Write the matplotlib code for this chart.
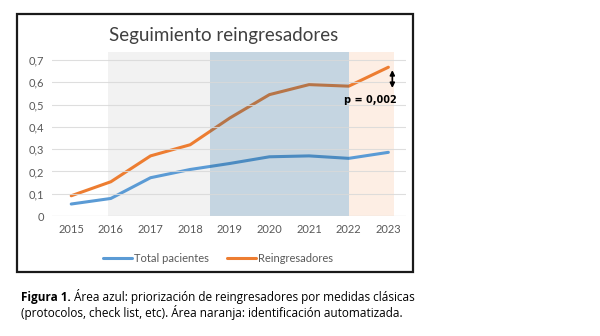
import matplotlib.pyplot as plt
from matplotlib.patches import Rectangle

plt.rcParams["font.family"] = ["Lato", "DejaVu Sans"]

# Data
years = ["2015", "2016", "2017", "2018", "2019", "2020", "2021", "2022", "2023"]
total_pacientes = [0.054, 0.079, 0.172, 0.209, 0.236, 0.266, 0.270, 0.259, 0.286]
reingresadores = [0.091, 0.154, 0.270, 0.320, 0.440, 0.545, 0.590, 0.583, 0.668]
y_ticks = [0, 0.1, 0.2, 0.3, 0.4, 0.5, 0.6, 0.7]
y_labels = ["0", "0,1", "0,2", "0,3", "0,4", "0,5", "0,6", "0,7"]

# Shaded periods (category index units)
gray_span = (0.92, 3.5)
blue_span = (3.5, 7.0)
orange_span = (7.0, 8.13)

fig = plt.figure(figsize=(6, 3.36), dpi=100)
ax = fig.add_axes([0.087, 0.357, 0.59, 0.488])

x = list(range(len(years)))

ax.axvspan(*gray_span, color="#f2f2f2", zorder=0, lw=0)
ax.axvspan(*orange_span, color="#fdeee4", zorder=0, lw=0)
ax.plot(x, total_pacientes, color="#5b9bd5", lw=2.2, zorder=2,
        solid_capstyle="round", label="Total pacientes")
ax.plot(x, reingresadores, color="#ed7d31", lw=2.2, zorder=2,
        solid_capstyle="round", label="Reingresadores")
ax.axvspan(*blue_span, color="#1f5f8b", alpha=0.26, zorder=3, lw=0)

for yv in y_ticks[1:]:
    ax.axhline(yv, color="#d9d9d9", lw=0.8, zorder=4, alpha=0.85)
ax.axhline(0, color="#d9d9d9", lw=0.9, zorder=4)

ax.set_xlim(-0.48, 8.45)
ax.set_ylim(0, 0.736)
ax.set_xticks(x)
ax.set_xticklabels(years)
ax.set_yticks(y_ticks)
ax.set_yticklabels(y_labels)
ax.tick_params(length=0, labelsize=8, colors="#595959", pad=6)
for s in ax.spines.values():
    s.set_visible(False)

# p-value annotation
ax.annotate("", xy=(8.1, 0.655), xytext=(8.1, 0.575),
            arrowprops=dict(arrowstyle="<|-|>", color="black", lw=1.2,
                            mutation_scale=7, shrinkA=0, shrinkB=0), zorder=5)
ax.text(7.55, 0.523, "p = 0,002", fontsize=7, fontweight="bold",
        ha="center", va="center", zorder=5, family=["DejaVu Sans"])

fig.text(0.373, 0.895, "Seguimiento reingresadores", fontsize=13.5,
         color="#404040", ha="center", va="center")

fig.legend(loc="center", bbox_to_anchor=(0.363, 0.232), ncol=2,
           frameon=False, fontsize=8, handlelength=2.6, columnspacing=1.6,
           handletextpad=0.2, labelcolor="#595959")

fig.patches.append(Rectangle((17 / 600, 1 - 272 / 336), 396 / 600, 258 / 336,
                             transform=fig.transFigure, fill=False,
                             edgecolor="#1a1a1a", lw=1.6))

# Caption with bold lead-in
fig.canvas.draw()
renderer = fig.canvas.get_renderer()
cap_y1 = 1 - 297 / 336
cap_y2 = 1 - 312 / 336
t = fig.text(0.035, cap_y1, "Figura 1.", fontsize=8.5, fontweight="bold",
             va="center", family=["Open Sans", "DejaVu Sans"])
bb = t.get_window_extent(renderer).transformed(fig.transFigure.inverted())
fig.text(bb.x1 + 0.005, cap_y1,
         "Área azul: priorización de reingresadores por medidas clásicas",
         fontsize=8.5, va="center", family=["Open Sans", "DejaVu Sans"])
fig.text(0.035, cap_y2,
         "(protocolos, check list, etc). Área naranja: identificación automatizada.",
         fontsize=8.5, va="center", family=["Open Sans", "DejaVu Sans"])

fig.savefig("out.png", dpi=100)
